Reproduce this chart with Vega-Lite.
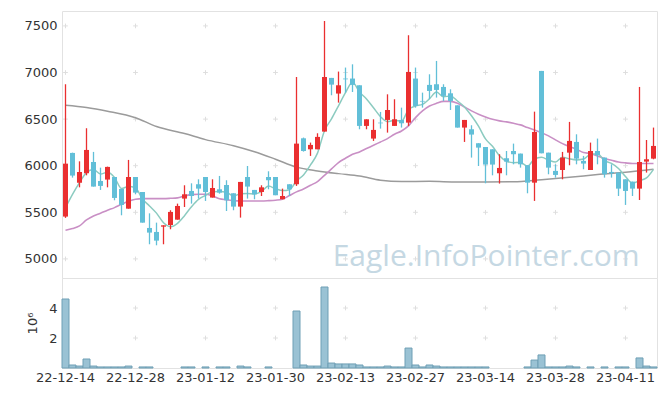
{
  "$schema": "https://vega.github.io/schema/vega-lite/v6.json",
  "background": "white",
  "padding": {"left": 23, "top": 10, "right": 8, "bottom": 10},
  "spacing": 0,
  "bounds": "flush",
  "config": {
    "view": {"stroke": "#e2e2e2"},
    "font": "DejaVu Sans",
    "axis": {"labelFont": "DejaVu Sans", "labelFontSize": 13, "labelColor": "#333333", "ticks": false, "domain": false, "grid": false}
  },
  "datasets": {
    "k": [
      {"d":"22-12-14","o":5454,"h":6874,"l":5440,"c":6022,"v":4600000,"m5":5550,"m20":5307},
      {"d":"22-12-15","o":6137,"h":6140,"l":5872,"c":5894,"v":200000,"m5":5693,"m20":5325},
      {"d":"22-12-16","o":5818,"h":6047,"l":5768,"c":5933,"v":130000,"m5":5819,"m20":5354},
      {"d":"22-12-19","o":5919,"h":6402,"l":5897,"c":6169,"v":600000,"m5":5926,"m20":5418},
      {"d":"22-12-20","o":6040,"h":6148,"l":5776,"c":5776,"v":130000,"m5":5959,"m20":5461},
      {"d":"22-12-21","o":5836,"h":5979,"l":5740,"c":5783,"v":70000,"m5":5911,"m20":5490},
      {"d":"22-12-22","o":5851,"h":5990,"l":5768,"c":5987,"v":70000,"m5":5930,"m20":5522},
      {"d":"22-12-23","o":5879,"h":5879,"l":5629,"c":5654,"v":70000,"m5":5874,"m20":5550},
      {"d":"22-12-26","o":5751,"h":5751,"l":5468,"c":5579,"v":70000,"m5":5756,"m20":5586},
      {"d":"22-12-27","o":5539,"h":6062,"l":5539,"c":5879,"v":130000,"m5":5776,"m20":5618},
      {"d":"22-12-28","o":5879,"h":5879,"l":5693,"c":5711,"v":0,"m5":5762,"m20":5640},
      {"d":"22-12-29","o":5718,"h":5718,"l":5389,"c":5389,"v":70000,"m5":5642,"m20":5647},
      {"d":"23-01-02","o":5332,"h":5489,"l":5157,"c":5282,"v":70000,"m5":5568,"m20":5647},
      {"d":"23-01-03","o":5289,"h":5389,"l":5146,"c":5196,"v":0,"m5":5491,"m20":5647},
      {"d":"23-01-04","o":5346,"h":5360,"l":5157,"c":5360,"v":0,"m5":5388,"m20":5647},
      {"d":"23-01-05","o":5364,"h":5522,"l":5318,"c":5504,"v":0,"m5":5346,"m20":5650},
      {"d":"23-01-06","o":5421,"h":5593,"l":5421,"c":5568,"v":0,"m5":5382,"m20":5655},
      {"d":"23-01-09","o":5647,"h":5790,"l":5557,"c":5693,"v":70000,"m5":5464,"m20":5675},
      {"d":"23-01-10","o":5729,"h":5811,"l":5593,"c":5675,"v":70000,"m5":5560,"m20":5690},
      {"d":"23-01-11","o":5801,"h":5854,"l":5647,"c":5754,"v":0,"m5":5639,"m20":5693},
      {"d":"23-01-12","o":5879,"h":5879,"l":5622,"c":5718,"v":70000,"m5":5682,"m20":5693},
      {"d":"23-01-13","o":5658,"h":5854,"l":5658,"c":5761,"v":0,"m5":5720,"m20":5676},
      {"d":"23-01-16","o":5747,"h":5890,"l":5700,"c":5711,"v":70000,"m5":5724,"m20":5645},
      {"d":"23-01-17","o":5793,"h":5844,"l":5514,"c":5629,"v":70000,"m5":5715,"m20":5635},
      {"d":"23-01-18","o":5704,"h":5704,"l":5522,"c":5561,"v":0,"m5":5676,"m20":5625},
      {"d":"23-01-19","o":5561,"h":5826,"l":5443,"c":5826,"v":130000,"m5":5698,"m20":5622},
      {"d":"23-01-20","o":5879,"h":5997,"l":5647,"c":5776,"v":70000,"m5":5701,"m20":5622},
      {"d":"23-01-25","o":5740,"h":5740,"l":5640,"c":5693,"v":0,"m5":5697,"m20":5622},
      {"d":"23-01-26","o":5718,"h":5790,"l":5675,"c":5768,"v":0,"m5":5725,"m20":5622},
      {"d":"23-01-27","o":5879,"h":5940,"l":5747,"c":5844,"v":70000,"m5":5781,"m20":5625},
      {"d":"23-01-30","o":5879,"h":5879,"l":5683,"c":5683,"v":0,"m5":5753,"m20":5630},
      {"d":"23-01-31","o":5640,"h":5754,"l":5640,"c":5675,"v":0,"m5":5733,"m20":5640},
      {"d":"23-02-01","o":5801,"h":5801,"l":5675,"c":5747,"v":0,"m5":5743,"m20":5680},
      {"d":"23-02-02","o":5801,"h":6952,"l":5783,"c":6237,"v":3800000,"m5":5837,"m20":5719},
      {"d":"23-02-03","o":6294,"h":6302,"l":6151,"c":6158,"v":200000,"m5":5900,"m20":5750},
      {"d":"23-02-06","o":6176,"h":6248,"l":6105,"c":6223,"v":130000,"m5":6008,"m20":5790},
      {"d":"23-02-07","o":6176,"h":6348,"l":6176,"c":6309,"v":130000,"m5":6135,"m20":5830},
      {"d":"23-02-08","o":6366,"h":7553,"l":6366,"c":6952,"v":5400000,"m5":6376,"m20":5897},
      {"d":"23-02-09","o":6942,"h":6942,"l":6756,"c":6870,"v":330000,"m5":6502,"m20":5965},
      {"d":"23-02-10","o":6774,"h":7010,"l":6677,"c":6863,"v":270000,"m5":6643,"m20":6033},
      {"d":"23-02-13","o":6935,"h":7053,"l":6784,"c":6927,"v":270000,"m5":6784,"m20":6080},
      {"d":"23-02-14","o":6935,"h":7088,"l":6791,"c":6867,"v":270000,"m5":6896,"m20":6123},
      {"d":"23-02-15","o":6863,"h":6863,"l":6391,"c":6427,"v":200000,"m5":6791,"m20":6148},
      {"d":"23-02-16","o":6427,"h":6498,"l":6391,"c":6498,"v":70000,"m5":6716,"m20":6184},
      {"d":"23-02-17","o":6291,"h":6498,"l":6266,"c":6384,"v":70000,"m5":6621,"m20":6219},
      {"d":"23-02-20","o":6462,"h":6577,"l":6398,"c":6455,"v":70000,"m5":6526,"m20":6255},
      {"d":"23-02-21","o":6491,"h":6766,"l":6355,"c":6598,"v":130000,"m5":6472,"m20":6291},
      {"d":"23-02-22","o":6427,"h":6713,"l":6427,"c":6498,"v":70000,"m5":6487,"m20":6337},
      {"d":"23-02-23","o":6491,"h":6623,"l":6409,"c":6455,"v":70000,"m5":6478,"m20":6373},
      {"d":"23-02-24","o":6462,"h":7400,"l":6427,"c":7006,"v":1330000,"m5":6602,"m20":6427},
      {"d":"23-02-27","o":6935,"h":7053,"l":6623,"c":6641,"v":200000,"m5":6640,"m20":6516},
      {"d":"23-02-28","o":6695,"h":6784,"l":6623,"c":6688,"v":70000,"m5":6658,"m20":6588},
      {"d":"23-03-02","o":6867,"h":6981,"l":6713,"c":6802,"v":200000,"m5":6718,"m20":6640},
      {"d":"23-03-03","o":6874,"h":7124,"l":6731,"c":6813,"v":130000,"m5":6790,"m20":6670},
      {"d":"23-03-06","o":6845,"h":6874,"l":6695,"c":6749,"v":70000,"m5":6739,"m20":6690},
      {"d":"23-03-07","o":6777,"h":6820,"l":6598,"c":6695,"v":70000,"m5":6749,"m20":6690},
      {"d":"23-03-08","o":6648,"h":6648,"l":6409,"c":6409,"v":70000,"m5":6694,"m20":6670},
      {"d":"23-03-09","o":6409,"h":6491,"l":6255,"c":6491,"v":70000,"m5":6631,"m20":6630},
      {"d":"23-03-10","o":6391,"h":6434,"l":6087,"c":6334,"v":70000,"m5":6536,"m20":6588},
      {"d":"23-03-13","o":6241,"h":6241,"l":5997,"c":6194,"v":70000,"m5":6425,"m20":6552},
      {"d":"23-03-14","o":6201,"h":6201,"l":5811,"c":6012,"v":70000,"m5":6288,"m20":6523},
      {"d":"23-03-15","o":6176,"h":6176,"l":5897,"c":6012,"v":0,"m5":6209,"m20":6498},
      {"d":"23-03-16","o":5919,"h":6123,"l":5808,"c":5976,"v":0,"m5":6106,"m20":6481},
      {"d":"23-03-17","o":6080,"h":6158,"l":5897,"c":6044,"v":0,"m5":6048,"m20":6470},
      {"d":"23-03-20","o":6158,"h":6237,"l":6015,"c":6123,"v":0,"m5":6033,"m20":6455},
      {"d":"23-03-21","o":6130,"h":6130,"l":5979,"c":6015,"v":0,"m5":6034,"m20":6438},
      {"d":"23-03-22","o":6005,"h":6005,"l":5704,"c":5818,"v":70000,"m5":5995,"m20":6409},
      {"d":"23-03-23","o":5818,"h":6580,"l":5622,"c":6362,"v":530000,"m5":6072,"m20":6384},
      {"d":"23-03-24","o":7017,"h":7017,"l":6133,"c":6133,"v":870000,"m5":6090,"m20":6355},
      {"d":"23-03-27","o":6140,"h":6140,"l":5908,"c":5979,"v":70000,"m5":6061,"m20":6320},
      {"d":"23-03-28","o":5944,"h":6015,"l":5872,"c":5901,"v":70000,"m5":6039,"m20":6277},
      {"d":"23-03-29","o":5954,"h":6148,"l":5854,"c":6087,"v":70000,"m5":6092,"m20":6237},
      {"d":"23-03-30","o":6140,"h":6470,"l":6005,"c":6266,"v":130000,"m5":6073,"m20":6205},
      {"d":"23-03-31","o":6255,"h":6337,"l":6015,"c":6076,"v":70000,"m5":6062,"m20":6176},
      {"d":"23-04-03","o":6051,"h":6105,"l":5962,"c":6023,"v":0,"m5":6071,"m20":6141},
      {"d":"23-04-04","o":5954,"h":6248,"l":5954,"c":6158,"v":70000,"m5":6122,"m20":6130},
      {"d":"23-04-05","o":6158,"h":6291,"l":6015,"c":6112,"v":0,"m5":6127,"m20":6105},
      {"d":"23-04-06","o":6087,"h":6087,"l":5872,"c":5908,"v":70000,"m5":6055,"m20":6076},
      {"d":"23-04-07","o":5933,"h":6015,"l":5872,"c":5919,"v":0,"m5":6024,"m20":6058},
      {"d":"23-04-10","o":5926,"h":5926,"l":5675,"c":5754,"v":70000,"m5":5970,"m20":6040},
      {"d":"23-04-11","o":5854,"h":5854,"l":5579,"c":5729,"v":70000,"m5":5884,"m20":6030},
      {"d":"23-04-12","o":5829,"h":5829,"l":5675,"c":5754,"v":0,"m5":5813,"m20":6023},
      {"d":"23-04-13","o":5754,"h":6845,"l":5632,"c":6040,"v":670000,"m5":5839,"m20":6023},
      {"d":"23-04-14","o":6044,"h":6276,"l":5926,"c":6069,"v":130000,"m5":5869,"m20":6023},
      {"d":"23-04-17","o":6076,"h":6409,"l":6069,"c":6212,"v":70000,"m5":5961,"m20":6023}
    ],
    "m60": [
      {"d":"22-12-14","m":6649},{"d":"22-12-19","m":6625},{"d":"22-12-22","m":6585},{"d":"22-12-28","m":6515},
      {"d":"23-01-03","m":6420},{"d":"23-01-09","m":6345},{"d":"23-01-12","m":6280},{"d":"23-01-18","m":6215},
      {"d":"23-01-25","m":6150},{"d":"23-01-30","m":6070},{"d":"23-02-02","m":5985},{"d":"23-02-07","m":5944},
      {"d":"23-02-10","m":5915},{"d":"23-02-15","m":5890},{"d":"23-02-20","m":5845},{"d":"23-02-23","m":5830},
      {"d":"23-03-02","m":5832},{"d":"23-03-08","m":5826},{"d":"23-03-14","m":5826},{"d":"23-03-20","m":5828},
      {"d":"23-03-24","m":5850},{"d":"23-03-30","m":5875},{"d":"23-04-05","m":5905},{"d":"23-04-11","m":5930},
      {"d":"23-04-17","m":5962}
    ],
    "g": [
      {"d":"22-12-14","p":[5000,5500,6000,6500,7000,7500]},
      {"d":"22-12-28","p":[5000,5500,6000,6500,7000,7500]},
      {"d":"23-01-12","p":[5000,5500,6000,6500,7000,7500]},
      {"d":"23-01-30","p":[5000,5500,6000,6500,7000,7500]},
      {"d":"23-02-13","p":[5000,5500,6000,6500,7000,7500]},
      {"d":"23-02-27","p":[5000,5500,6000,6500,7000,7500]},
      {"d":"23-03-14","p":[5000,5500,6000,6500,7000,7500]},
      {"d":"23-03-28","p":[5000,5500,6000,6500,7000,7500]},
      {"d":"23-04-11","p":[5000,5500,6000,6500,7000,7500]}
    ],
    "gv": [
      {"d":"22-12-14","p":[2000000,4000000]},
      {"d":"22-12-28","p":[2000000,4000000]},
      {"d":"23-01-12","p":[2000000,4000000]},
      {"d":"23-01-30","p":[2000000,4000000]},
      {"d":"23-02-13","p":[2000000,4000000]},
      {"d":"23-02-27","p":[2000000,4000000]},
      {"d":"23-03-14","p":[2000000,4000000]},
      {"d":"23-03-28","p":[2000000,4000000]},
      {"d":"23-04-11","p":[2000000,4000000]}
    ]
  },
  "vconcat": [
    {
      "width": 595,
      "height": 267,
      "layer": [
        {
          "data": {"name": "g"},
          "transform": [{"flatten": ["p"]}],
          "mark": {"type": "point", "shape": "M-1,0H1M0,-1V1", "size": 22, "filled": false, "stroke": "#dedede", "strokeWidth": 1, "opacity": 1},
          "encoding": {
            "x": {"field": "d", "type": "ordinal", "scale": {"type": "band", "paddingInner": 0, "paddingOuter": 0}, "axis": null},
            "y": {"field": "p", "type": "quantitative", "scale": {"domain": [4795, 7660], "nice": false, "zero": false},
                  "axis": {"values": [5000, 5500, 6000, 6500, 7000, 7500], "format": "d", "title": null, "labelPadding": 5}}
          }
        },
        {
          "data": {"values": [{"w": "Eagle.InfoPointer.com"}]},
          "mark": {"type": "text", "font": "Open Sans", "fontSize": 30, "align": "right", "baseline": "alphabetic", "color": "#c5d8e3"},
          "encoding": {
            "text": {"field": "w"},
            "x": {"datum": "23-04-13", "type": "ordinal"},
            "y": {"datum": 4925, "type": "quantitative"}
          }
        },
        {
          "data": {"name": "m60"},
          "mark": {"type": "line", "color": "#9b9b9b", "strokeWidth": 1.5, "interpolate": "monotone"},
          "encoding": {"x": {"field": "d", "type": "ordinal"}, "y": {"field": "m", "type": "quantitative"}}
        },
        {
          "data": {"name": "k"},
          "mark": {"type": "line", "color": "#c98fc5", "strokeWidth": 1.6, "interpolate": "monotone"},
          "encoding": {"x": {"field": "d", "type": "ordinal"}, "y": {"field": "m20", "type": "quantitative"}}
        },
        {
          "data": {"name": "k"},
          "mark": {"type": "line", "color": "#8ccbc0", "strokeWidth": 1.5, "interpolate": "monotone"},
          "encoding": {"x": {"field": "d", "type": "ordinal"}, "y": {"field": "m5", "type": "quantitative"}}
        },
        {
          "data": {"name": "k"},
          "mark": {"type": "rule", "strokeWidth": 1.3},
          "encoding": {
            "x": {"field": "d", "type": "ordinal"},
            "y": {"field": "l", "type": "quantitative"},
            "y2": {"field": "h"},
            "color": {"condition": {"test": "datum.c > datum.o", "value": "#ea2f30"}, "value": "#62bfd8"}
          }
        },
        {
          "data": {"name": "k"},
          "mark": {"type": "bar", "width": {"band": 0.72}},
          "encoding": {
            "x": {"field": "d", "type": "ordinal"},
            "y": {"field": "o", "type": "quantitative"},
            "y2": {"field": "c"},
            "color": {"condition": {"test": "datum.c > datum.o", "value": "#ea2f30"}, "value": "#62bfd8"}
          }
        }
      ]
    },
    {
      "width": 595,
      "height": 90,
      "layer": [
        {
          "data": {"name": "gv"},
          "transform": [{"flatten": ["p"]}],
          "mark": {"type": "point", "shape": "M-1,0H1M0,-1V1", "size": 22, "filled": false, "stroke": "#dedede", "strokeWidth": 1, "opacity": 1},
          "encoding": {
            "x": {"field": "d", "type": "ordinal", "scale": {"type": "band", "paddingInner": 0, "paddingOuter": 0},
                  "axis": {"values": ["22-12-14","22-12-28","23-01-12","23-01-30","23-02-13","23-02-27","23-03-14","23-03-28","23-04-11"],
                           "labelAngle": 0, "labelPadding": 3, "labelOverlap": false, "title": null}},
            "y": {"field": "p", "type": "quantitative", "scale": {"domain": [0, 6000000], "nice": false},
                  "axis": {"values": [2000000, 4000000], "labelExpr": "datum.value / 1000000", "labelPadding": 5,
                           "title": "10⁶", "titleFont": "DejaVu Sans", "titleFontSize": 13, "titleFontWeight": "normal", "titleColor": "#333333", "titlePadding": 9}}
          }
        },
        {
          "data": {"name": "k"},
          "mark": {"type": "bar", "fill": "#9ac2d4", "stroke": "#6f9fb5", "strokeWidth": 1},
          "encoding": {
            "x": {"field": "d", "type": "ordinal"},
            "y": {"field": "v", "type": "quantitative"},
            "strokeOpacity": {"condition": {"test": "datum.v == 0", "value": 0}, "value": 1}
          }
        }
      ]
    }
  ]
}
